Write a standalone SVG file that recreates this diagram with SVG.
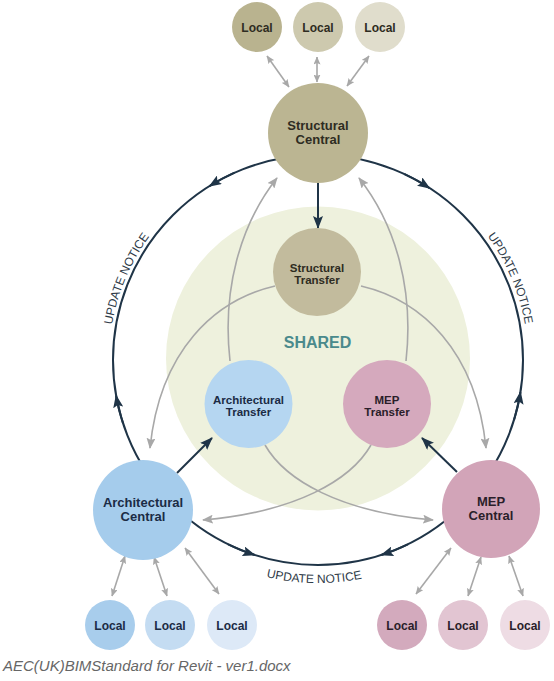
<svg xmlns="http://www.w3.org/2000/svg" width="554" height="681" viewBox="0 0 554 681">
<style>
  .lbl{font-family:"Liberation Sans",Arial,sans-serif;font-weight:bold;text-anchor:middle}
  .big{font-size:13px}
  .mid{font-size:11.5px}
  .loc{font-size:12px}
  .st{fill:#2e2c22}
  .ar{fill:#1b2b45}
  .me{fill:#2a1e2a}
  .dk{fill:none;stroke:#1f3447;stroke-width:2}
  .gy{fill:none;stroke:#a8a8a8;stroke-width:1.6}
  .un{font-family:"Liberation Sans",Arial,sans-serif;font-size:12px;fill:#2f3b48}
</style>
<defs>
  <marker id="mdk" viewBox="0 0 13 10" refX="12" refY="5" markerWidth="13" markerHeight="10" markerUnits="userSpaceOnUse" orient="auto">
    <path d="M0,0 L13,5 L0,10 L2.5,5 Z" fill="#1f3447"/>
  </marker>
  <marker id="mgy" viewBox="0 0 11 9" refX="10" refY="4.5" markerWidth="11" markerHeight="9" markerUnits="userSpaceOnUse" orient="auto">
    <path d="M0,0 L11,4.5 L0,9 L2,4.5 Z" fill="#a8a8a8"/>
  </marker>
  <marker id="mgs" viewBox="0 0 8 7" refX="7.5" refY="3.5" markerWidth="8" markerHeight="7" markerUnits="userSpaceOnUse" orient="auto-start-reverse">
    <path d="M0,0 L8,3.5 L0,7 L1.5,3.5 Z" fill="#a8a8a8"/>
  </marker>
  <path id="tpL" d="M110.6,385.5 A209,209 0 0 1 192.2,193.1"/>
  <path id="tpR" d="M444.4,192.3 A210,210 0 0 1 526.4,385.6"/>
  <path id="tpB" d="M203.2,551.2 A223,223 0 0 0 426.1,555.0"/>
</defs>

<g id="shared">
  <circle cx="318" cy="358.5" r="152" fill="#eef1dd"/>
  <text x="317.5" y="348" class="lbl" style="font-size:16px;fill:#4a8a8c">SHARED</text>
</g>

<g id="connectors">
  <circle cx="318" cy="360" r="205" class="dk"/>
  <path class="dk" marker-end="url(#mdk)" d="M234.6,172.7 A205,205 0 0 0 209.4,186.2"/>
  <path class="dk" marker-end="url(#mdk)" d="M123.0,423.3 A205,205 0 0 1 116.1,395.6"/>
  <path class="dk" marker-end="url(#mdk)" d="M404.6,174.2 A205,205 0 0 1 429.6,188.1"/>
  <path class="dk" marker-end="url(#mdk)" d="M514.0,419.9 A205,205 0 0 0 520.5,392.1"/>
  <path class="dk" marker-end="url(#mdk)" d="M228.1,544.3 A205,205 0 0 0 254.7,555.0"/>
  <path class="dk" marker-end="url(#mdk)" d="M407.9,544.3 A205,205 0 0 1 381.3,555.0"/>
  <path class="dk" marker-end="url(#mdk)" d="M318,183 L318,228"/>
  <path class="dk" marker-end="url(#mdk)" d="M177,473 L212,438"/>
  <path class="dk" marker-end="url(#mdk)" d="M457,472 L422,438"/>

  <path class="gy" marker-end="url(#mgy)" d="M230,361 C222,290 240,225 277,178"/>
  <path class="gy" marker-end="url(#mgy)" d="M406,361 C414,290 396,225 359,178"/>
  <path class="gy" marker-end="url(#mgy)" d="M275,286 C215,300 160,350 150,448"/>
  <path class="gy" marker-end="url(#mgy)" d="M361,286 C421,300 476,350 486,448"/>
  <path class="gy" marker-end="url(#mgy)" d="M265,445 C285,480 340,512 433,520"/>
  <path class="gy" marker-end="url(#mgy)" d="M371,445 C351,480 296,512 203,520"/>

  <path class="gy" marker-start="url(#mgs)" marker-end="url(#mgs)" d="M267,56 L289,87"/>
  <path class="gy" marker-start="url(#mgs)" marker-end="url(#mgs)" d="M317,57 L317,82"/>
  <path class="gy" marker-start="url(#mgs)" marker-end="url(#mgs)" d="M369,56 L347,86"/>
  <path class="gy" marker-start="url(#mgs)" marker-end="url(#mgs)" d="M125,556 L112,596"/>
  <path class="gy" marker-start="url(#mgs)" marker-end="url(#mgs)" d="M154,557 L167,596"/>
  <path class="gy" marker-start="url(#mgs)" marker-end="url(#mgs)" d="M185,548 L219,594"/>
  <path class="gy" marker-start="url(#mgs)" marker-end="url(#mgs)" d="M451,548 L416,594"/>
  <path class="gy" marker-start="url(#mgs)" marker-end="url(#mgs)" d="M481,557 L468,596"/>
  <path class="gy" marker-start="url(#mgs)" marker-end="url(#mgs)" d="M509,556 L523,596"/>

  <text class="un"><textPath href="#tpL" startOffset="50%" text-anchor="middle">UPDATE NOTICE</textPath></text>
  <text class="un"><textPath href="#tpR" startOffset="50%" text-anchor="middle">UPDATE NOTICE</textPath></text>
  <text class="un"><textPath href="#tpB" startOffset="50%" text-anchor="middle">UPDATE NOTICE</textPath></text>
</g>

<g id="struct-local-1"><circle cx="257" cy="27" r="25" fill="#b9b38f"/><text x="257" y="31.5" class="lbl loc st">Local</text></g>
<g id="struct-local-2"><circle cx="318" cy="27" r="25" fill="#cdc9ae"/><text x="318" y="31.5" class="lbl loc st">Local</text></g>
<g id="struct-local-3"><circle cx="380" cy="27" r="25" fill="#e0ddcc"/><text x="380" y="31.5" class="lbl loc st">Local</text></g>

<g id="structural-central"><circle cx="318" cy="133" r="50" fill="#bbb592"/><text class="lbl big st"><tspan x="318" y="130">Structural</tspan><tspan x="318" y="144">Central</tspan></text></g>
<g id="structural-transfer"><circle cx="317" cy="272" r="44" fill="#c2bb9d"/><text class="lbl mid st"><tspan x="317" y="272">Structural</tspan><tspan x="317" y="284">Transfer</tspan></text></g>
<g id="architectural-transfer"><circle cx="248.5" cy="404" r="44" fill="#b5d6f1"/><text class="lbl mid ar"><tspan x="248.5" y="404">Architectural</tspan><tspan x="248.5" y="416">Transfer</tspan></text></g>
<g id="mep-transfer"><circle cx="387" cy="404" r="44" fill="#d5a9bd"/><text class="lbl mid me"><tspan x="387" y="404">MEP</tspan><tspan x="387" y="416">Transfer</tspan></text></g>
<g id="architectural-central"><circle cx="143" cy="510" r="50" fill="#a5ccec"/><text class="lbl big ar"><tspan x="143" y="507">Architectural</tspan><tspan x="143" y="521">Central</tspan></text></g>
<g id="mep-central"><circle cx="491" cy="509" r="49" fill="#d2a4b8"/><text class="lbl big me"><tspan x="491" y="506">MEP</tspan><tspan x="491" y="520">Central</tspan></text></g>

<g id="arch-local-1"><circle cx="110" cy="625" r="25" fill="#a8cdec"/><text x="110" y="629.5" class="lbl loc ar">Local</text></g>
<g id="arch-local-2"><circle cx="170" cy="625" r="25" fill="#c4dcf2"/><text x="170" y="629.5" class="lbl loc ar">Local</text></g>
<g id="arch-local-3"><circle cx="232" cy="625" r="25" fill="#dde9f7"/><text x="232" y="629.5" class="lbl loc ar">Local</text></g>

<g id="mep-local-1"><circle cx="402" cy="625" r="25" fill="#d3aabd"/><text x="402" y="629.5" class="lbl loc me">Local</text></g>
<g id="mep-local-2"><circle cx="463" cy="625" r="25" fill="#e2c5d2"/><text x="463" y="629.5" class="lbl loc me">Local</text></g>
<g id="mep-local-3"><circle cx="525" cy="625" r="25" fill="#eedce4"/><text x="525" y="629.5" class="lbl loc me">Local</text></g>

<text x="3" y="671" style="font-family:'Liberation Sans',Arial,sans-serif;font-style:italic;font-size:15px;fill:#666">AEC(UK)BIMStandard for Revit - ver1.docx</text>
</svg>
